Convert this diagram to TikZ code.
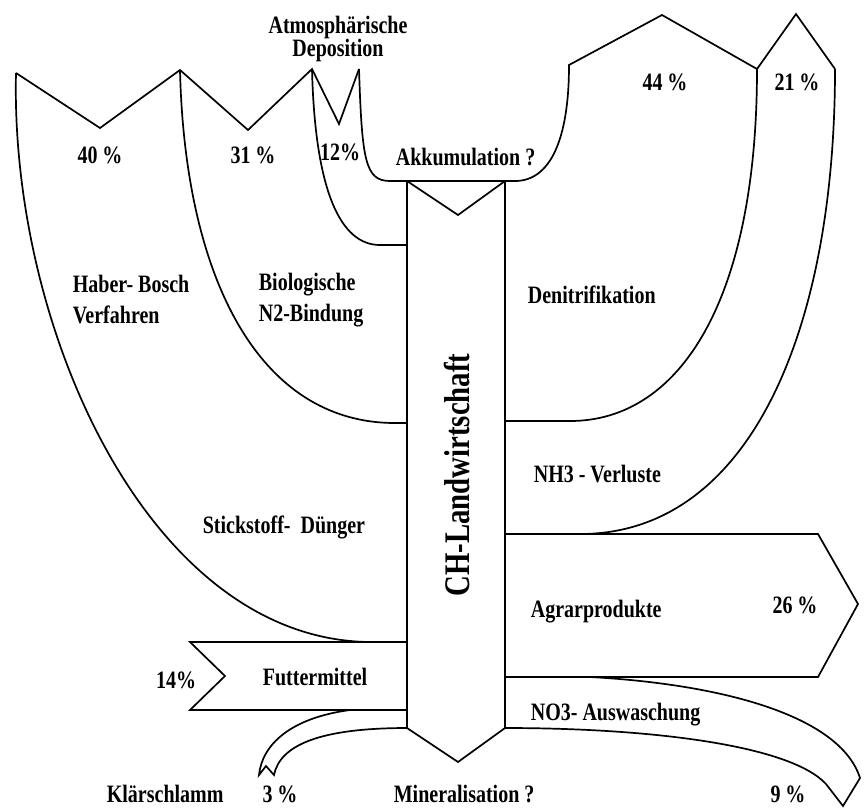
\documentclass[tikz,border=0pt]{standalone}
\usepackage{fontspec}
\newfontfamily\condfont{Liberation Serif}[FakeStretch=0.8]
\begin{document}
\begin{tikzpicture}[x=1pt, y=-1pt, line width=1.7pt,
	lbl/.style={font=\condfont\bfseries\fontsize{25}{31}\selectfont, inner sep=0pt, align=left},
	big/.style={font=\condfont\bfseries\fontsize{36}{40}\selectfont, inner sep=0pt}]
	\useasboundingbox (0,0) rectangle (866,807);
	\draw (16,73) -- (100,128) -- (180,70) -- (248,130) -- (312,69) -- (339,124) -- (359,69);
	\draw (16,73) .. controls (10,330) and (150,640) .. (370,642);
	\draw (180,70) .. controls (185,280) and (260,423) .. (395,423) -- (407,423);
	\draw (312,69) .. controls (315,190) and (340,245) .. (380,245) -- (407,245);
	\draw (359,69) .. controls (362,160) and (365,181) .. (390,181) -- (515,181) .. controls (550,181) and (569,140) .. (569,65) -- (662,15) -- (757,69) -- (796,14) -- (835,69);
	\draw (757,69) .. controls (757,300) and (680,421) .. (570,421) -- (505,421);
	\draw (835,69) .. controls (835,330) and (750,534) .. (580,534);
	\draw (407,181) -- (458,215) -- (505,181);
	\draw (407,181) -- (407,728) -- (458,762) -- (505,728) -- (505,181);
	\draw (407,642) -- (190,642) -- (225,676) -- (190,710) -- (407,710);
	\draw (505,534) -- (818,534) -- (858,604) -- (818,677) -- (505,677);
	\draw (590,677) .. controls (720,684) and (840,715) .. (860,778) -- (843,806) -- (826,784) .. controls (790,745) and (650,728) .. (505,728);
	\draw (350,710) .. controls (290,718) and (262,745) .. (259,775) -- (266,766) -- (274,775) .. controls (280,745) and (320,728) .. (407,728);
	\node[big, rotate=90, anchor=base] (ch) at (469,475) {CH-Landwirtschaft};
	\node[lbl, align=center, font=\condfont\bfseries\fontsize{25}{23}\selectfont] (atmo) at (338,39) {Atmosphärische\\Deposition};
	\node[lbl, anchor=west] (haber) at (72,300) {Haber- Bosch\\Verfahren};
	\node[lbl, anchor=west] (bio) at (258,300) {Biologische\\N2-Bindung};
	\node[lbl, anchor=base west] (akku) at (395,165) {Akkumulation ?};
	\node[lbl, anchor=base west] (denit) at (527,303) {Denitrifikation};
	\node[lbl, anchor=base west] (nh3) at (533,482) {NH3 - Verluste};
	\node[lbl, anchor=base west] (stick) at (202,533) {Stickstoff-~ Dünger};
	\node[lbl, anchor=base west] (futter) at (262,685) {Futtermittel};
	\node[lbl, anchor=base west] (agrar) at (530,617) {Agrarprodukte};
	\node[lbl, anchor=base west] (no3) at (530,720) {NO3- Auswaschung};
	\node[lbl, anchor=base west] (klaer) at (106,802) {Klärschlamm};
	\node[lbl, anchor=base west] (mineral) at (393,802) {Mineralisation ?};
	\node[lbl, anchor=base] (p40) at (100,163) {40 \%};
	\node[lbl, anchor=base] (p31) at (253,163) {31 \%};
	\node[lbl, anchor=base] (p12) at (340,160) {12\%};
	\node[lbl, anchor=base] (p44) at (665,90) {44 \%};
	\node[lbl, anchor=base] (p21) at (797,90) {21 \%};
	\node[lbl, anchor=base] (p26) at (795,613) {26 \%};
	\node[lbl, anchor=base] (p14) at (176,688) {14\%};
	\node[lbl, anchor=base] (p3) at (280,802) {3 \%};
	\node[lbl, anchor=base] (p9) at (788,802) {9 \%};
\end{tikzpicture}
\end{document}
